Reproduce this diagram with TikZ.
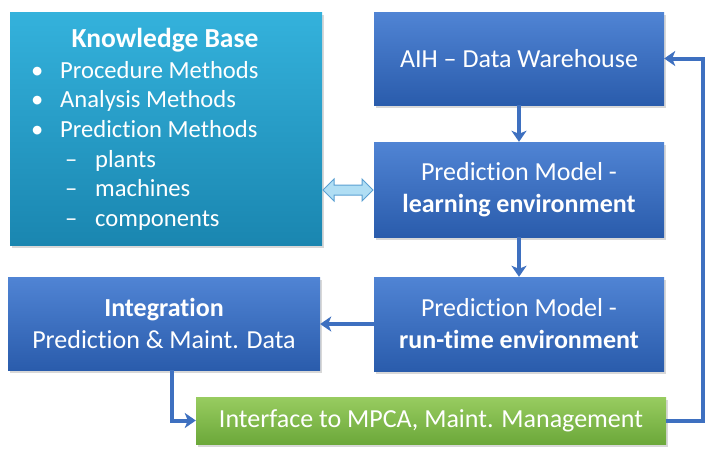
\documentclass[tikz,border=0pt]{standalone}
\usepackage{fontspec}
\setmainfont{Carlito}[Ligatures=NoCommon]
\usetikzlibrary{arrows.meta,shadows,shapes.arrows}
\definecolor{bluetop}{RGB}{80,132,212}
\definecolor{bluebot}{RGB}{42,92,172}
\definecolor{tealtop}{RGB}{52,178,220}
\definecolor{tealbot}{RGB}{26,134,176}
\definecolor{greentop}{RGB}{152,204,96}
\definecolor{greenbot}{RGB}{108,168,58}
\definecolor{arrblue}{RGB}{62,112,192}
\definecolor{dblfill}{RGB}{176,222,244}
\definecolor{dbldraw}{RGB}{90,160,210}
\begin{document}
\begin{tikzpicture}[x=1pt,y=-1pt,
  box/.style={draw=none, top color=bluetop, bottom color=bluebot, text=white,
    font=\fontsize{26}{32}\selectfont, align=center, inner sep=0pt,
    drop shadow={opacity=0.3, shadow xshift=2pt, shadow yshift=-3pt}},
  kbbox/.style={box, top color=tealtop, bottom color=tealbot},
  gbox/.style={box, top color=greentop, bottom color=greenbot},
  arr/.style={draw=arrblue, line width=4pt, -{Stealth[length=11pt,width=15pt,inset=3pt]}},
  kbtext/.style={text=white, inner sep=0pt, font=\fontsize{24.6}{29.6}\selectfont}
]
\useasboundingbox (0,0) rectangle (705,453);
\fill[white] (0,0) rectangle (705,453);
\node[kbbox, minimum width=312pt, minimum height=233pt] (kb) at (166,128.5) {};
\node[kbtext, font=\bfseries\fontsize{27.5}{29.5}\selectfont, anchor=base] (kbtitle) at (165,47) {Knowledge Base};
\node[kbtext, anchor=north west, align=left] (kblist) at (31,61)
 {\makebox[29pt][l]{•}Procedure Methods\\
  \makebox[29pt][l]{•}Analysis Methods\\
  \makebox[29pt][l]{•}Prediction Methods\\
  \hspace*{34pt}\makebox[30pt][l]{–}plants\\
  \hspace*{34pt}\makebox[30pt][l]{–}machines\\
  \hspace*{34pt}\makebox[30pt][l]{–}components};
\node[box, minimum width=290pt, minimum height=93pt] (aih) at (519,58.5) {AIH – Data Warehouse};
\node[box, minimum width=290pt, minimum height=95pt] (learn) at (519,189.5) {Prediction Model -\\\textbf{learning environment}};
\node[box, minimum width=290pt, minimum height=94pt] (run) at (519,324) {Prediction Model -\\\textbf{run-time environment}};
\node[box, minimum width=312pt, minimum height=93pt] (integ) at (164,323.5) {\textbf{Integration}\\Prediction \& Maint. Data};
\node[gbox, minimum width=470pt, minimum height=47pt] (iface) at (431,420.5) {Interface to MPCA, Maint. Management};
\node[double arrow, draw=dbldraw, fill=dblfill, line width=1pt, minimum height=50pt,
  minimum width=22pt, inner sep=4.5pt, double arrow head extend=6pt] (dbl) at (348,190) {};
\draw[arr] (aih) -- (learn);
\draw[arr] (learn) -- (run);
\draw[arr] (run.west) -- (run.west -| integ.east);
\draw[arr] ([xshift=8pt]integ.south) |- (iface.west);
\coordinate (fb) at (703,0);
\draw[arr] (iface.east) -| (fb |- aih.east) -- (aih.east);
\end{tikzpicture}
\end{document}
